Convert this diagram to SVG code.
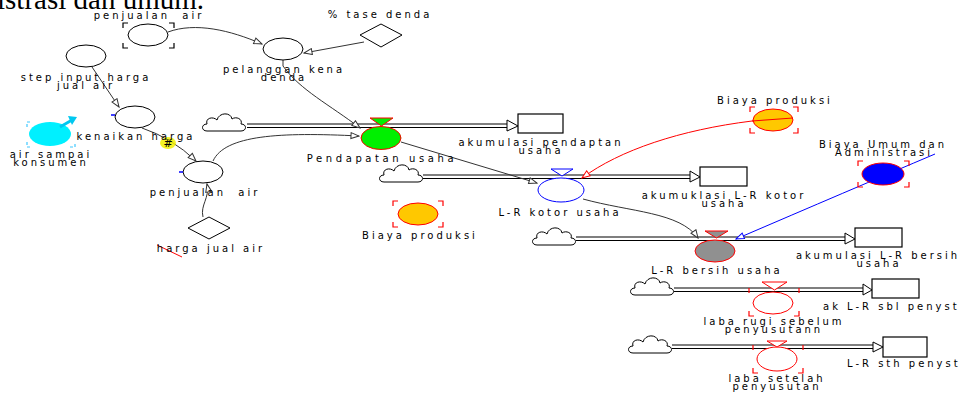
<svg xmlns="http://www.w3.org/2000/svg" width="960" height="394" viewBox="0 0 960 394">
<style>
text{font-family:"DejaVu Sans",Verdana,sans-serif;font-size:10px;letter-spacing:3px;fill:#000;text-anchor:middle}
.st{text-anchor:start}
.c{stroke:#333;stroke-width:1;fill:none}
.pipe{stroke:#000;stroke-width:1.2}
.cloud{fill:#fff;stroke:#000;stroke-width:1}
.stock{fill:#fff;stroke:#000;stroke-width:1.2}
.ah{fill:#fff;stroke:#000;stroke-width:1}
.aux{fill:#fff;stroke:#000;stroke-width:1}
.br{fill:none;stroke-width:1.2}
</style>
<defs>
<marker id="m" viewBox="0 0 10 8" refX="9" refY="4" markerWidth="10" markerHeight="8" markerUnits="userSpaceOnUse" orient="auto"><path d="M1,1 L9,4 L1,7 Z" fill="#fff" stroke="#333" stroke-width="1"/></marker>
<marker id="mr" viewBox="0 0 10 8" refX="9" refY="4" markerWidth="10" markerHeight="8" markerUnits="userSpaceOnUse" orient="auto"><path d="M1,1 L9,4 L1,7 Z" fill="#fff" stroke="#f00" stroke-width="1"/></marker>
<marker id="mb" viewBox="0 0 10 8" refX="9" refY="4" markerWidth="10" markerHeight="8" markerUnits="userSpaceOnUse" orient="auto"><path d="M1,1 L9,4 L1,7 Z" fill="#fff" stroke="#00f" stroke-width="1"/></marker>
<path id="cl" d="M-18,8 C-24,8 -24,1 -18,1 C-20,-5 -12,-7 -8,-3 C-6,-11 6,-11 7,-4 C11,-7 18,-4 16,1 C22,1 22,8 16,8 Z"/>
</defs>
<rect width="960" height="394" fill="#fff"/>
<text x="-3" y="9" class="st" style="font-family:'Liberation Serif',serif;font-size:29px;letter-spacing:0">istrasi dan umum.</text>

<g id="flows">
<g id="flow1"><use href="#cl" class="cloud" x="225" y="123"/><line class="pipe" x1="247" y1="124" x2="508" y2="124"/><line class="pipe" x1="247" y1="127.5" x2="508" y2="127.5"/><polygon class="ah" points="507,120 518,126 507,131"/></g>
<g id="flow2"><use href="#cl" class="cloud" x="402" y="174"/><line class="pipe" x1="423" y1="175" x2="691" y2="175"/><line class="pipe" x1="423" y1="178.5" x2="691" y2="178.5"/><polygon class="ah" points="690,171 700,177 690,182"/></g>
<g id="flow3"><use href="#cl" class="cloud" x="555" y="237"/><line class="pipe" x1="576" y1="237" x2="846" y2="237"/><line class="pipe" x1="576" y1="240.5" x2="846" y2="240.5"/><polygon class="ah" points="845,233 855,239 845,244"/></g>
<g id="flow4"><use href="#cl" class="cloud" x="653" y="287"/><line class="pipe" x1="674" y1="288" x2="864" y2="288"/><line class="pipe" x1="674" y1="291.5" x2="864" y2="291.5"/><polygon class="ah" points="863,284 872,290 863,295"/></g>
<g id="flow5"><use href="#cl" class="cloud" x="651" y="345"/><line class="pipe" x1="672" y1="345" x2="874" y2="345"/><line class="pipe" x1="672" y1="348.5" x2="874" y2="348.5"/><polygon class="ah" points="873,342 883,347 873,352"/></g>
</g>

<g id="connectors">
<path class="c" d="M168,32 C195,22 230,30 262,44" marker-end="url(#m)"/>
<path class="c" d="M92,67 L119,107" marker-end="url(#m)"/>
<path class="c" d="M142,128 Q172,138 196,161" marker-end="url(#m)"/>
<path class="c" d="M203,217 C200,205 210,198 207,184" marker-end="url(#m)"/>
<path class="c" d="M364,42 L304,53" marker-end="url(#m)"/>
<path class="c" d="M283,60 L283,66 C300,90 330,105 360,128" marker-end="url(#m)"/>
<path class="c" d="M213,161 C225,135 280,132 359,136" marker-end="url(#m)"/>
<path class="c" d="M401,142 L537,183" marker-end="url(#m)"/>
<path d="M792,118 L752,121 C680,130 620,150 582,178" fill="none" stroke="#f00" stroke-width="1" marker-end="url(#mr)"/>
<path class="c" d="M583,199 C630,212 680,212 698,238" marker-end="url(#m)"/>
<path d="M935,154 Q850,190 736,239" fill="none" stroke="#00f" stroke-width="1" marker-end="url(#mb)"/>
<ellipse cx="168" cy="143" rx="8" ry="6" fill="#f2f000" opacity="0.85"/>
<text x="168" y="147" style="font-size:11px;letter-spacing:0">#</text>
<line x1="157" y1="245" x2="182" y2="257" stroke="#f00" stroke-width="1"/>
</g>

<g id="penjualan-air-ghost">
<ellipse class="aux" cx="148" cy="35" rx="20" ry="11"/>
<path class="br" stroke="#000" d="M123,28 V23 H128 M169,23 H174 V28 M174,43 V48 H169 M128,48 H123 V43"/>
<text x="149" y="19" xml:space="preserve">penjualan  air</text>
</g>
<g id="step-input">
<ellipse class="aux" cx="86" cy="56" rx="20" ry="11"/>
<text x="86" y="81">step input harga</text>
<text x="86" y="89">jual air</text>
</g>
<g id="pelanggan-kena-denda">
<ellipse class="aux" cx="283" cy="49" rx="20" ry="11"/>
<text x="284" y="73">pelanggan kena</text>
<text x="284" y="81">denda</text>
</g>
<g id="tase-denda">
<polygon class="aux" points="381,24 402,35 381,47 360,35"/>
<text x="380" y="18">% tase denda</text>
</g>
<g id="kenaikan-harga">
<ellipse class="aux" cx="135" cy="117" rx="20" ry="11"/>
<line x1="111" y1="115" x2="115" y2="115" stroke="#00f" stroke-width="1.5"/>
<text x="136" y="140">kenaikan harga</text>
</g>
<g id="air-sampai-konsumen">
<ellipse cx="50" cy="134" rx="21" ry="12" fill="#00f0ff"/>
<path d="M60,127 L72,120" stroke="#00c8f0" stroke-width="3"/>
<polygon points="68,116 77,117 72,125" fill="#00c8f0"/>
<path class="br" stroke="#40c8ff" stroke-dasharray="3,2" d="M27,127 V122 H32 M27,142 V147 H32 M70,147 H75 V142"/>
<text x="51" y="158">air sampai</text>
<text x="51" y="166">konsumen</text>
</g>
<g id="penjualan-air">
<ellipse class="aux" cx="203" cy="172" rx="20" ry="11"/>
<line x1="179" y1="172" x2="183" y2="172" stroke="#00f" stroke-width="1.5"/>
<text x="205" y="196" xml:space="preserve">penjualan  air</text>
</g>
<g id="harga-jual-air">
<polygon class="aux" points="209,217 230,228 209,239 188,228"/>
<text x="211" y="252">harga jual air</text>
</g>
<g id="pendapatan-usaha">
<ellipse cx="381" cy="138" rx="20" ry="11.5" fill="#00f000" stroke="#f00" stroke-width="1"/>
<polygon points="370,118 393,118 381.5,126" fill="#00f000" stroke="#f00" stroke-width="1"/>
<text x="382" y="162" style="letter-spacing:3.6px">Pendapatan usaha</text>
</g>
<g id="akumulasi-pendaptan-usaha">
<rect class="stock" x="518" y="114" width="45" height="19"/>
<text x="541" y="146">akumulasi pendaptan</text>
<text x="541" y="154">usaha</text>
</g>
<g id="biaya-produksi-1">
<ellipse cx="773" cy="120" rx="20" ry="11" fill="#ffc800" stroke="#f00" stroke-width="1"/>
<line x1="752" y1="121" x2="793" y2="118" stroke="#f00" stroke-width="1"/>
<path class="br" stroke="#f00" d="M750,112 V107 H755 M793,107 H798 V112 M798,128 V133 H793 M755,133 H750 V128"/>
<text x="775" y="104">Biaya produksi</text>
</g>
<g id="biaya-produksi-2">
<ellipse cx="418" cy="214" rx="20" ry="11" fill="#ffc800" stroke="#f00" stroke-width="1"/>
<path class="br" stroke="#f00" d="M393,206 V201 H398 M438,201 H443 V206 M443,222 V227 H438 M398,227 H393 V222"/>
<text x="420" y="239">Biaya produksi</text>
</g>
<g id="l-r-kotor-usaha">
<ellipse cx="561" cy="190" rx="23" ry="12" fill="#fff" stroke="#00f" stroke-width="1"/>
<polygon points="551,169 573,169 562,176" fill="#fff" stroke="#00f" stroke-width="1"/>
<text x="560" y="216">L-R kotor usaha</text>
</g>
<g id="akumuklasi-lr-kotor">
<rect class="stock" x="700" y="167" width="47" height="19"/>
<text x="724" y="199">akumuklasi L-R kotor</text>
<text x="724" y="207">usaha</text>
</g>
<g id="biaya-umum">
<ellipse cx="883" cy="174" rx="21" ry="11" fill="#0000ff" stroke="#f00" stroke-width="1"/>
<path class="br" stroke="#f00" d="M858,166 V161 H863 M904,161 H909 V166 M909,182 V187 H904 M863,187 H858 V182"/>
<text x="883" y="148">Biaya Umum dan</text>
<text x="884" y="156">Administrasi</text>
</g>
<g id="l-r-bersih-usaha">
<ellipse cx="715" cy="251" rx="20" ry="11" fill="#909090" stroke="#f00" stroke-width="1"/>
<polygon points="705,231 728,231 716.5,238" fill="#909090" stroke="#f00" stroke-width="1"/>
<text x="717" y="274">L-R bersih usaha</text>
</g>
<g id="akumulasi-lr-bersih">
<rect class="stock" x="855" y="228" width="47" height="19"/>
<text x="878" y="259">akumulasi L-R bersih</text>
<text x="879" y="267">usaha</text>
</g>
<g id="laba-rugi-sebelum">
<ellipse cx="773" cy="303" rx="20" ry="11" fill="#fff" stroke="#f00" stroke-width="1"/>
<polygon points="762,282 787,282 774.5,290" fill="#fff" stroke="#f00" stroke-width="1"/>
<path class="br" stroke="#f00" d="M749,293 V288 M799,288 V293 M799,311 V316 H794 M754,316 H749 V311"/>
<text x="774" y="325">laba rugi sebelum</text>
<text x="774" y="333">penyusutann</text>
</g>
<g id="ak-lr-sbl">
<rect class="stock" x="872" y="279" width="47" height="19"/>
<text x="823" y="310" class="st">ak L-R sbl penyst</text>
</g>
<g id="laba-setelah">
<ellipse cx="777" cy="359" rx="20" ry="12" fill="#fff" stroke="#f00" stroke-width="1"/>
<polygon points="767,341 787,341 777,347" fill="#fff" stroke="#f00" stroke-width="1"/>
<path class="br" stroke="#f00" d="M753,350 V345 M803,345 V350 M803,368 V373 H798 M758,373 H753 V368"/>
<text x="777" y="382">laba setelah</text>
<text x="777" y="390">penyusutan</text>
</g>
<g id="lr-sth">
<rect class="stock" x="883" y="337" width="44" height="20"/>
<text x="847" y="367" class="st">L-R sth penyst</text>
</g>
</svg>
